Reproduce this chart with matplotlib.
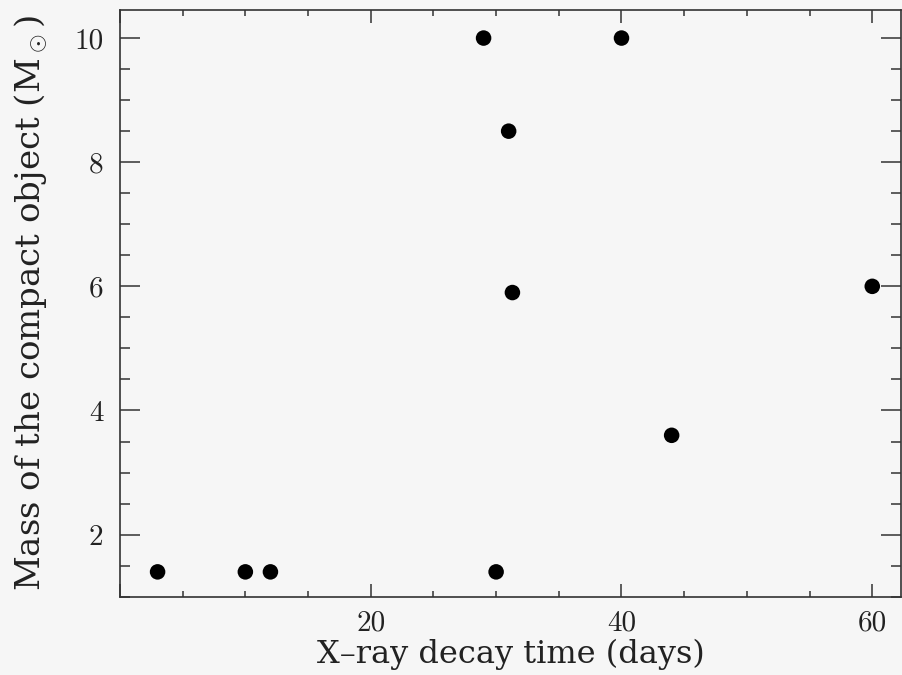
import matplotlib
matplotlib.use('Agg')
import matplotlib.pyplot as plt
from matplotlib.ticker import MultipleLocator, FuncFormatter

# values
decay_time = [3, 10, 12, 29, 30, 31, 31.3, 40, 44, 60]  # days
mass = [1.4, 1.4, 1.4, 10, 1.4, 8.5, 5.9, 10, 3.6, 6]  # solar masses

plt.rcParams['font.family'] = ['cmr10', 'DejaVu Serif']
plt.rcParams['mathtext.fontset'] = 'cm'

fig = plt.figure(figsize=(9.02, 6.75), dpi=100, facecolor='#f6f6f6')
ax = fig.add_axes([0.133, 0.116, 0.866, 0.869])
ax.set_facecolor('#f6f6f6')

ax.scatter(decay_time, mass, s=125, color='black', edgecolor='none',
           zorder=5, clip_on=False)

ax.set_xlim(0, 62.3)
ax.set_ylim(1.0, 10.45)

ax.xaxis.set_major_locator(MultipleLocator(20))
ax.xaxis.set_minor_locator(MultipleLocator(5))
ax.yaxis.set_major_locator(MultipleLocator(2))
ax.yaxis.set_minor_locator(MultipleLocator(0.5))
# plain integer labels, none at the origin
int_fmt = FuncFormatter(lambda v, p: '' if v == 0 else f'{v:.0f}')
ax.xaxis.set_major_formatter(int_fmt)
ax.yaxis.set_major_formatter(int_fmt)

ax.tick_params(axis='both', which='both', direction='in', top=True,
               right=True, color='#333333', width=1.1, labelsize=21,
               labelcolor='#222222')
ax.tick_params(axis='x', which='major', length=9.5, pad=10)
ax.tick_params(axis='x', which='minor', length=4)
ax.tick_params(axis='y', which='major', length=14.5, pad=12)
ax.tick_params(axis='y', which='minor', length=7.5)

for spine in ax.spines.values():
    spine.set_linewidth(1.2)
    spine.set_color('#333333')

ax.set_xlabel('X\u2013ray decay time (days)', fontsize=23, labelpad=1,
              color='#222222', family='DejaVu Serif')
ax.set_ylabel(r'Mass of the compact object (M$_\odot$)', fontsize=24.5,
              color='#222222', family='DejaVu Serif')
ax.yaxis.set_label_coords(-0.09, 0.5)

plt.savefig('out.png', dpi=100, facecolor=fig.get_facecolor())
